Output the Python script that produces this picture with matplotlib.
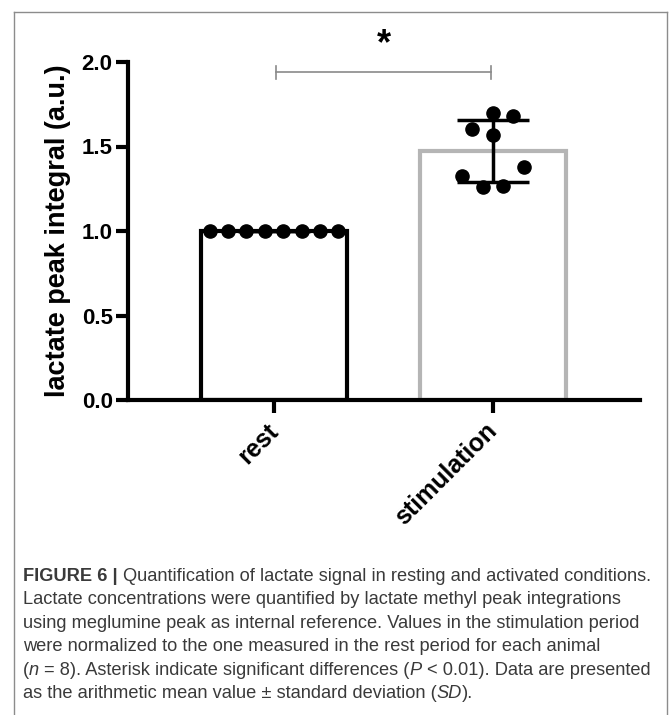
import matplotlib
matplotlib.use('Agg')
import matplotlib.pyplot as plt
import matplotlib.transforms as mtrans
from matplotlib.lines import Line2D
import numpy as np

# data
groups = ['rest', 'stimulation']
rest_vals = [1.0, 1.0, 1.0, 1.0, 1.0, 1.0, 1.0, 1.0]
stim_vals = [1.696, 1.680, 1.602, 1.568, 1.377, 1.327, 1.262, 1.268]
# horizontal scatter of the dots inside each bar (data units)
rest_jitter = [-0.293, -0.209, -0.126, -0.042, 0.042, 0.126, 0.209, 0.293]
stim_jitter = [0.0, 0.09, -0.095, 0.0, 0.14, -0.14, -0.046, 0.046]
yticks = [0.0, 0.5, 1.0, 1.5, 2.0]
ylabel = 'lactate peak integral (a.u.)'
sig_label = '*'

caption = [
    [('FIGURE 6 | ', 'b'), ('Quantification of lactate signal in resting and activated conditions.', 'n')],
    [('Lactate concentrations were quantified by lactate methyl peak integrations', 'n')],
    [('using meglumine peak as internal reference. Values in the stimulation period', 'n')],
    [('were normalized to the one measured in the rest period for each animal', 'n')],
    [('(', 'n'), ('n', 'i'), (' = 8). Asterisk indicate significant differences (', 'n'), ('P', 'i'),
     (' < 0.01). Data are presented', 'n')],
    [('as the arithmetic mean value \u00b1 standard deviation (', 'n'), ('SD', 'i'), (').', 'n')],
]

W, H = 670, 715
plt.rcParams['font.family'] = ['Liberation Sans', 'DejaVu Sans']
fig = plt.figure(figsize=(W / 100, H / 100), dpi=100)

# frame around the panel
frame = dict(color='#8c8c8c', lw=1.0, transform=fig.transFigure)
fig.add_artist(Line2D([14 / W, 14 / W], [0, 1 - 12 / H], **frame))
fig.add_artist(Line2D([14 / W, 667 / W], [1 - 12 / H, 1 - 12 / H], **frame))
fig.add_artist(Line2D([667 / W, 667 / W], [0, 1 - 12 / H], **frame))

ax = fig.add_axes([128 / W, 1 - 400 / H, 512 / W, 338 / H])
values = [rest_vals, stim_vals]
jitter = [rest_jitter, stim_jitter]
x = np.arange(len(groups))
means = [np.mean(v) for v in values]
sds = [np.std(v, ddof=1) for v in values]

ax.bar(x, means, width=0.667, color='white', edgecolor=['black', '#b5b5b5'],
       linewidth=3, zorder=1)
ax.errorbar(x, means, yerr=sds, fmt='none', ecolor='black', elinewidth=2.5,
            capsize=26, capthick=2.5, zorder=3)
for i in range(len(groups)):
    ax.scatter(x[i] + np.array(jitter[i]), values[i], s=90, color='black',
               zorder=4, clip_on=False)

ax.set_xlim(-0.667, 1.671)
ax.set_ylim(0, 2.0)
ax.set_yticks(yticks)
ax.set_yticklabels(['%.1f' % t for t in yticks], fontsize=16, fontweight='bold')
ax.set_xticks(x)
ax.set_xticklabels([])
# rotated group labels, nudged so their ends sit under the ticks
lab_tr = ax.get_xaxis_transform() + mtrans.ScaledTranslation(-8 / 100, -19 / 100, fig.dpi_scale_trans)
for xi, g in zip(x, groups):
    ax.text(xi, 0, g, transform=lab_tr, fontsize=18, fontweight='bold', rotation=45,
            ha='right', va='top', rotation_mode='anchor', clip_on=False)
ax.tick_params(axis='y', length=9, width=3, pad=2)
ax.tick_params(axis='x', length=9, width=3)
for s in ['top', 'right']:
    ax.spines[s].set_visible(False)
for s in ['left', 'bottom']:
    ax.spines[s].set_linewidth(3)
ax.set_ylabel(ylabel, fontsize=19.5, fontweight='bold')
ax.yaxis.set_label_coords(-0.112, 0.5)

# significance bracket
bc = '#8a8a8a'
ax.plot([0.01, 0.99], [1.939, 1.939], color=bc, lw=1.2, clip_on=False)
for xb in [0.01, 0.99]:
    ax.plot([xb, xb], [1.902, 1.976], color=bc, lw=1.2, clip_on=False)
ax.text(0.5, 2.10, sig_label, ha='center', va='center', fontsize=26,
        fontweight='bold', clip_on=False)

# caption, drawn piece by piece so bold/italic parts can mix
r = fig.canvas.get_renderer()
cap_kw = dict(fontsize=13.15, color='#3a3a3a')
styles = {'n': {}, 'b': {'fontweight': 'bold'}, 'i': {'fontstyle': 'italic'}}


def text_w(s, st):
    t = fig.text(0, 0, s, **cap_kw, **styles[st])
    w = t.get_window_extent(r).width
    t.remove()
    return w


sp = text_w('x x', 'n') - text_w('xx', 'n')
for k, line in enumerate(caption):
    ypix = 581 + k * 23.4
    xpix = 23
    for txt, st in line:
        if txt.startswith(' '):
            xpix += sp
        core = txt.strip()
        t = fig.text(xpix / W, 1 - ypix / H, core, va='baseline', **cap_kw, **styles[st])
        xpix += t.get_window_extent(r).width
        if txt.endswith(' '):
            xpix += sp

fig.savefig('out.png', dpi=100)
